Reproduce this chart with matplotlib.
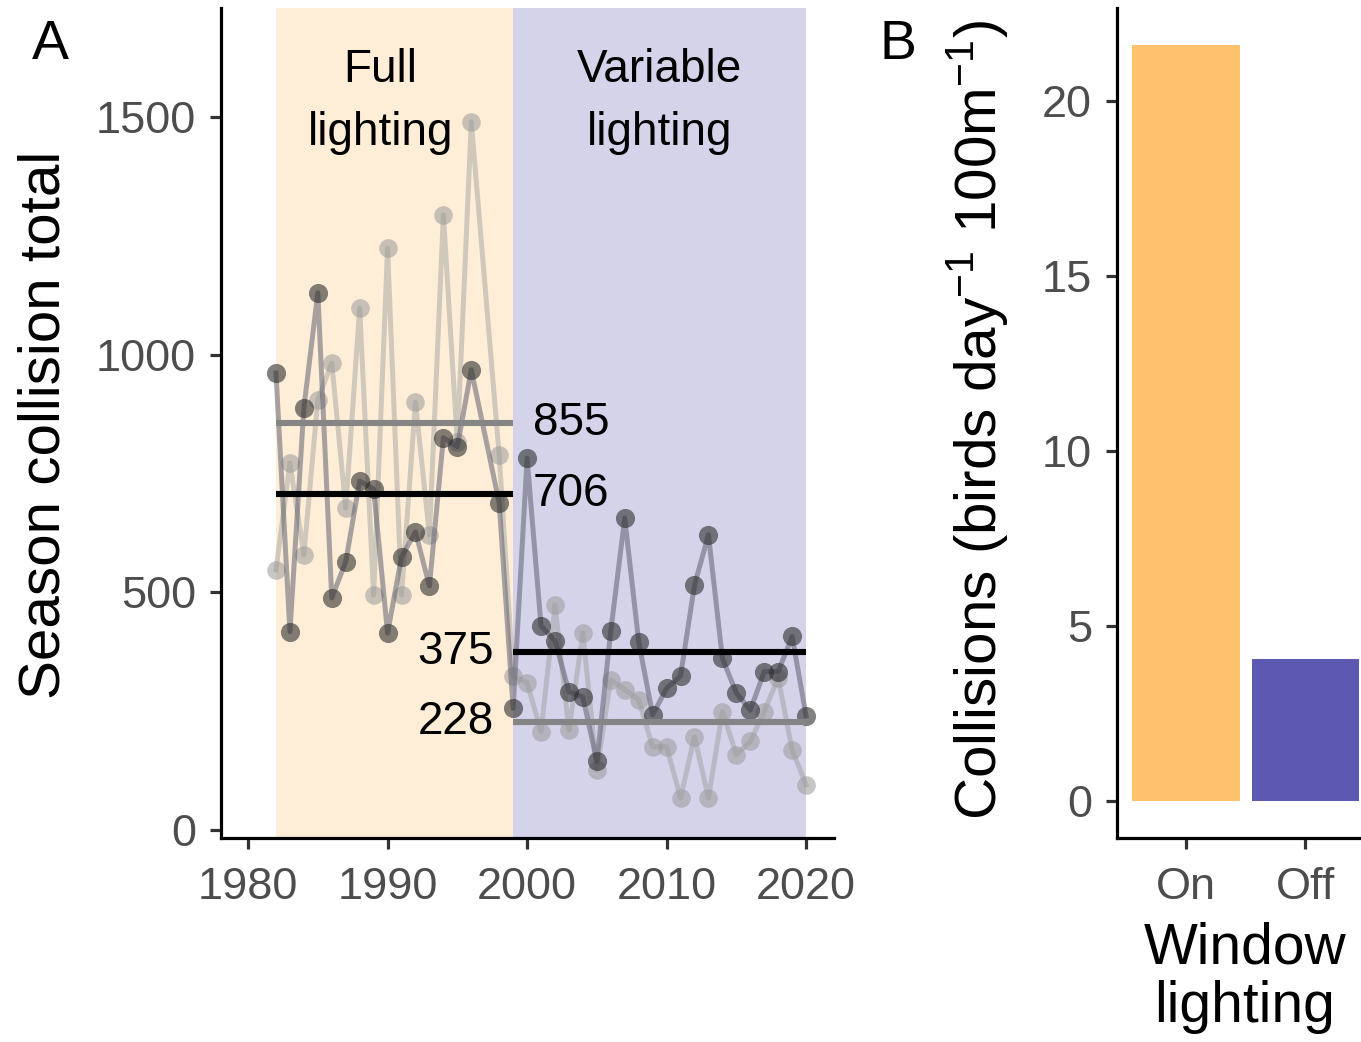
import matplotlib
matplotlib.use("Agg")
import matplotlib.pyplot as plt


# ------------------------------------------------------------
# Data
# ------------------------------------------------------------

# 1997 is missing in both series
YEARS = [1982, 1983, 1984, 1985, 1986, 1987, 1988, 1989, 1990, 1991, 1992,
         1993, 1994, 1995, 1996, 1998, 1999, 2000, 2001, 2002, 2003, 2004,
         2005, 2006, 2007, 2008, 2009, 2010, 2011, 2012, 2013, 2014, 2015,
         2016, 2017, 2018, 2019, 2020]

DARK_SERIES = [961, 417, 888, 1130, 488, 564, 734, 717, 414, 574, 627,
               513, 825, 806, 968, 688, 256, 782, 429, 398, 291, 280,
               144, 419, 656, 396, 242, 298, 324, 515, 621, 361, 288,
               252, 333, 333, 407, 240]

LIGHT_SERIES = [547, 772, 579, 905, 982, 677, 1098, 494, 1224, 494, 900,
                620, 1294, 815, 1490, 789, 323, 310, 207, 473, 210, 414,
                126, 316, 295, 274, 175, 175, 67, 196, 67, 249, 158,
                186, 249, 320, 168, 95]

PERIODS = ["Full\nlighting", "Variable\nlighting"]
PERIOD_SPANS = [(1982, 1999), (1999, 2020)]
PERIOD_LABEL_X = [1989.5, 2009.5]
DARK_MEANS = [706, 375]
LIGHT_MEANS = [855, 228]

WINDOW_LIGHTING = ["On", "Off"]
COLLISION_RATE = [21.6, 4.06]

ORANGE = "#FDBF63"
PURPLE = "#5450AE"
TICK_GREY = "#4D4D4D"

plt.rcParams["font.family"] = ["Liberation Sans", "DejaVu Sans"]
plt.rcParams["mathtext.fontset"] = "custom"
plt.rcParams["mathtext.rm"] = "Liberation Sans"


def style_axis(ax):
    for side in ["top", "right"]:
        ax.spines[side].set_visible(False)
    for side in ["left", "bottom"]:
        ax.spines[side].set_linewidth(2.3)
        ax.spines[side].set_color("black")
    ax.tick_params(axis="both", length=8, width=2.3, color="#333333",
                   labelsize=32.5, labelcolor=TICK_GREY, pad=10)
    ax.tick_params(axis="x", pad=13)


fig = plt.figure(figsize=(13.61, 10.42), dpi=100)

# ------------------------------------------------------------
# Panel A
# ------------------------------------------------------------
ax = fig.add_axes([221 / 1361, 1 - 838 / 1042, 613 / 1361, 830 / 1042])

for (x0, x1), col in zip(PERIOD_SPANS, [ORANGE, PURPLE]):
    ax.axvspan(x0, x1, color=col, alpha=0.25, lw=0, zorder=0)

ax.plot(YEARS, LIGHT_SERIES, color="#9a9a9a", alpha=0.45, lw=3.6, zorder=2)
ax.scatter(YEARS, LIGHT_SERIES, s=180, color="#9a9a9a", alpha=0.55,
           lw=0, zorder=3)
ax.plot(YEARS, DARK_SERIES, color="#606070", alpha=0.55, lw=3.6, zorder=4)
ax.scatter(YEARS, DARK_SERIES, s=190, color="#2e2e2e", alpha=0.6,
           lw=0, zorder=5)

for (x0, x1), m_dark, m_light in zip(PERIOD_SPANS, DARK_MEANS, LIGHT_MEANS):
    ax.hlines(m_light, x0, x1, color="#858585", lw=4.4, zorder=6)
    ax.hlines(m_dark, x0, x1, color="black", lw=4.4, zorder=7)

# mean labels
ax.text(2000.4, LIGHT_MEANS[0], str(LIGHT_MEANS[0]), fontsize=33,
        ha="left", va="center", zorder=8)
ax.text(2000.4, DARK_MEANS[0], str(DARK_MEANS[0]), fontsize=33,
        ha="left", va="center", zorder=8)
ax.text(1997.6, DARK_MEANS[1], str(DARK_MEANS[1]), fontsize=33,
        ha="right", va="center", zorder=8)
ax.text(1997.6, LIGHT_MEANS[1], str(LIGHT_MEANS[1]), fontsize=33,
        ha="right", va="center", zorder=8)

for label, x in zip(PERIODS, PERIOD_LABEL_X):
    ax.text(x, 1532, label, fontsize=33, ha="center", va="center",
            linespacing=1.55, zorder=8)

ax.set_xlim(1978.06, 2022.0)
ax.set_ylim(-17, 1729)
ax.set_xticks([1980, 1990, 2000, 2010, 2020])
ax.set_yticks([0, 500, 1000, 1500])
style_axis(ax)

fig.text(45 / 1361, 1 - 425 / 1042, "Season collision total", rotation=90,
         fontsize=42, ha="center", va="center")

# ------------------------------------------------------------
# Panel B
# ------------------------------------------------------------
bx = fig.add_axes([1117 / 1361, 1 - 838 / 1042, 262 / 1361, 830 / 1042])
bx.bar(WINDOW_LIGHTING, COLLISION_RATE, width=0.9, color=[ORANGE, PURPLE],
       alpha=0.95)
bx.set_xlim(-0.58, 1.62)
bx.set_ylim(-1.06, 22.66)
bx.set_yticks([0, 5, 10, 15, 20])
style_axis(bx)

fig.text(978 / 1361, 1 - 420 / 1042,
         "Collisions (birds day$^{-1}$ 100m$^{-1}$)", rotation=90,
         fontsize=42, ha="center", va="center")
fig.text(1245 / 1361, 1 - 978 / 1042, "Window\nlighting", fontsize=41,
         ha="center", va="center", linespacing=1.1)

fig.text(50 / 1361, 1 - 45 / 1042, "A", fontsize=40, ha="center", va="center")
fig.text(898 / 1361, 1 - 45 / 1042, "B", fontsize=40, ha="center", va="center")

fig.savefig("out.png", dpi=100)
